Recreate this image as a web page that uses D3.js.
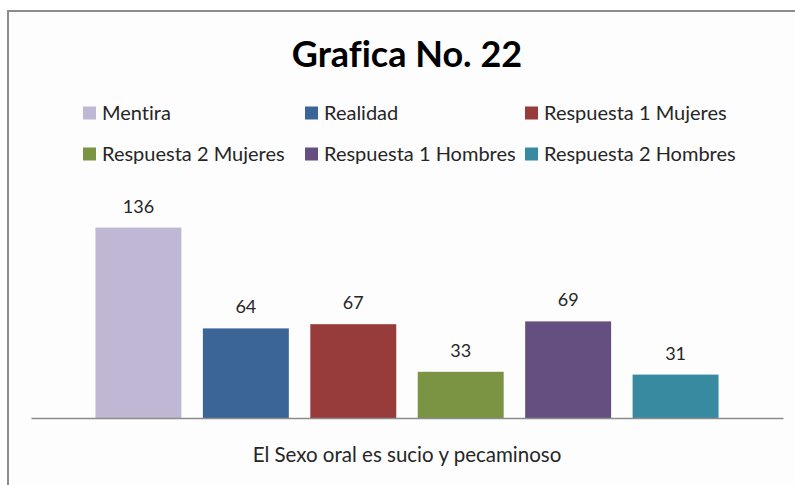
<!DOCTYPE html>
<html>
<head>
<meta charset="utf-8">
<script src="https://cdn.jsdelivr.net/npm/d3@7"></script>
<style>
  html, body { margin: 0; padding: 0; background: #ffffff; }
  svg { display: block; }
  text { font-family: Lato, "Open Sans", sans-serif; fill: #262626; font-variant-ligatures: none; }
</style>
</head>
<body>
<svg id="chart" width="795" height="485"></svg>
<script>
// Survey answers for one statement, split by response group
const categories = ["El Sexo oral es sucio y pecaminoso"];
const seriesNames = ["Mentira", "Realidad", "Respuesta 1 Mujeres",
                     "Respuesta 2 Mujeres", "Respuesta 1 Hombres", "Respuesta 2 Hombres"];
const seriesValues = [136, 64, 67, 33, 69, 31];
const seriesColors = ["#c0b7d4", "#3c6597", "#983b3b", "#7a9443", "#644f80", "#388aa1"];
const titleText = "Grafica No. 22";

const W = 795, H = 485;
const svg = d3.select("#chart");

// Chart area background and frame
svg.append("rect").attr("x", 0).attr("y", 0).attr("width", W).attr("height", H).attr("fill", "#ffffff");
svg.append("rect")
  .attr("x", 8).attr("y", 11).attr("width", W + 10).attr("height", H + 10)
  .attr("fill", "#fdfdfd").attr("stroke", "#8c8c8c").attr("stroke-width", 2);

// Scales
const baseY = 418;
const x0 = d3.scaleBand().domain(categories).range([31, 783]);
const x1 = d3.scaleBand().domain(seriesNames).range([0, x0.bandwidth()])
  .paddingInner(0.2).paddingOuter(0.6);
const y = d3.scaleLinear().domain([0, 160]).range([baseY, 194]);
const color = d3.scaleOrdinal().domain(seriesNames).range(seriesColors);

// Title
svg.append("text")
  .attr("x", 407).attr("y", 67)
  .attr("text-anchor", "middle")
  .style("font-size", "36px").style("font-weight", "bold").style("fill", "#000")
  .text(titleText);

// Legend: three columns, two rows
const legendCols = [83, 305, 525];
const legendRows = [113, 154];
const legend = svg.append("g");
seriesNames.forEach((name, i) => {
  const cx = legendCols[i % 3], cy = legendRows[Math.floor(i / 3)];
  const g = legend.append("g").attr("transform", `translate(${cx},${cy})`);
  g.append("rect").attr("x", 0).attr("y", -6.5).attr("width", 13).attr("height", 13).attr("fill", color(name));
  g.append("text").attr("x", 19).attr("y", 0).attr("dy", "0.35em")
    .style("font-size", "20px").text(name);
});

// Bars
const data = seriesNames.map((name, i) => ({ name, value: seriesValues[i], cat: categories[0] }));
const plot = svg.append("g");
plot.selectAll("rect.bar").data(data).join("rect")
  .attr("class", "bar")
  .attr("x", d => x0(d.cat) + x1(d.name))
  .attr("width", x1.bandwidth())
  .attr("y", d => y(d.value))
  .attr("height", d => y(0) - y(d.value))
  .attr("fill", d => color(d.name));

// Value labels
plot.selectAll("text.val").data(data).join("text")
  .attr("class", "val")
  .attr("x", d => x0(d.cat) + x1(d.name) + x1.bandwidth() / 2)
  .attr("y", d => y(d.value) - 15)
  .attr("text-anchor", "middle")
  .style("font-size", "18px")
  .text(d => d.value);

// Category axis
const xAxis = svg.append("g").attr("transform", `translate(0,${baseY})`)
  .call(d3.axisBottom(x0).tickSize(0).tickPadding(29));
xAxis.select(".domain").attr("stroke", "#8c8c8c").attr("stroke-width", 1.5);
xAxis.selectAll(".tick text")
  .style("font-family", "Lato, 'Open Sans', sans-serif")
  .style("font-variant-ligatures", "none")
  .style("font-size", "20.5px").style("fill", "#262626");
</script>
</body>
</html>
